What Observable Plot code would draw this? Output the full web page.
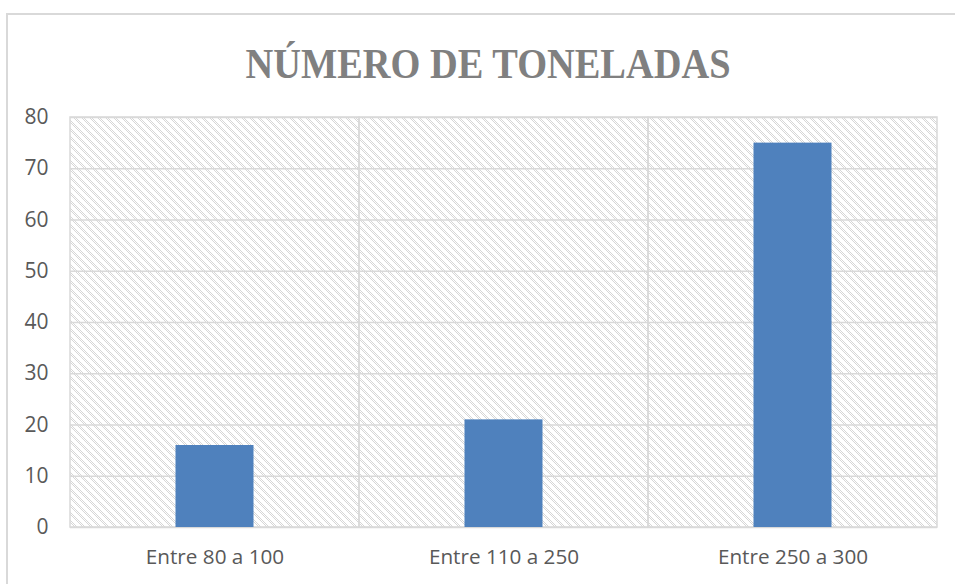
<!DOCTYPE html>
<html>
<head>
<meta charset="utf-8">
<script src="https://cdn.jsdelivr.net/npm/d3@7"></script>
<script src="https://cdn.jsdelivr.net/npm/@observablehq/plot@0.6"></script>
<style>
  html, body { margin: 0; padding: 0; background: #fff; }
  #wrap { position: relative; width: 955px; height: 584px; overflow: hidden; }
  #border { position: absolute; left: 6px; top: 13px; width: 1000px; height: 700px; border: 2px solid #d9d9d9; box-sizing: border-box; }
  #title { position: absolute; left: 0; top: 0; }
  #chart { position: absolute; left: 0; top: 100px; }
</style>
</head>
<body>
<div id="wrap">
  <div id="border"></div>
  <svg id="title" width="955" height="100">
    <text x="488" y="78" text-anchor="middle" font-family="Liberation Serif" font-weight="bold" font-size="42" fill="#808080" textLength="485" lengthAdjust="spacingAndGlyphs">NÚMERO DE TONELADAS</text>
  </svg>
  <div id="chart"></div>
</div>
<script>
const categories = ["Entre 80 a 100", "Entre 110 a 250", "Entre 250 a 300"];
const values = [16, 21, 75];
const yTicks = [0, 10, 20, 30, 40, 50, 60, 70, 80];

const data = categories.map((c, i) => ({category: c, value: values[i]}));
const bands = categories.map(c => ({category: c, top: yTicks[yTicks.length - 1]}));

function hatchDefs() {
  const ns = "http://www.w3.org/2000/svg";
  const defs = document.createElementNS(ns, "defs");
  const pat = document.createElementNS(ns, "pattern");
  pat.setAttribute("id", "hatch");
  pat.setAttribute("patternUnits", "userSpaceOnUse");
  pat.setAttribute("width", "8");
  pat.setAttribute("height", "8");
  const bg = document.createElementNS(ns, "rect");
  bg.setAttribute("width", "8"); bg.setAttribute("height", "8"); bg.setAttribute("fill", "#ffffff");
  pat.appendChild(bg);
  for (let r = 0; r < 8; r++) {
    for (let c = 0; c < 8; c++) {
      const d = ((c - r) % 8 + 8) % 8;
      if (d < 4 && (c + r) % 2 === 0) {
        const px = document.createElementNS(ns, "rect");
        px.setAttribute("x", c); px.setAttribute("y", r);
        px.setAttribute("width", 1); px.setAttribute("height", 1);
        px.setAttribute("fill", "#d6d6d6");
        pat.appendChild(px);
      }
    }
  }
  pat.setAttribute("shape-rendering", "crispEdges");
  defs.appendChild(pat);
  return defs;
}

const chart = Plot.plot({
  width: 955,
  height: 484,
  marginLeft: 70,
  marginRight: 18,
  marginTop: 17,
  marginBottom: 57,
  style: {fontFamily: "Open Sans", fontSize: "20px", color: "#595959", background: "transparent"},
  x: {domain: categories, padding: 0, label: null},
  y: {domain: [0, 80], ticks: yTicks, label: null},
  marks: [
    hatchDefs,
    Plot.barY(bands, {x: "category", y: "top", fill: "url(#hatch)"}),
    Plot.ruleY(yTicks, {stroke: "#d9d9d9", strokeWidth: 1.5}),
    Plot.barY(bands, {x: "category", y: "top", fill: "none", stroke: "#d9d9d9", strokeWidth: 1.5}),
    Plot.barY(data, {x: "category", y: "value", fill: "#4f81bd", insetLeft: 105.5, insetRight: 105.5}),
    Plot.axisY({ticks: yTicks, tickSize: 0, tickPadding: 22, fontSize: 21, fill: "#595959", label: null}),
    Plot.axisX({tickSize: 0, tickPadding: 22, fontSize: 20.7, fill: "#595959", label: null})
  ]
});
document.getElementById("chart").appendChild(chart);
</script>
</body>
</html>
